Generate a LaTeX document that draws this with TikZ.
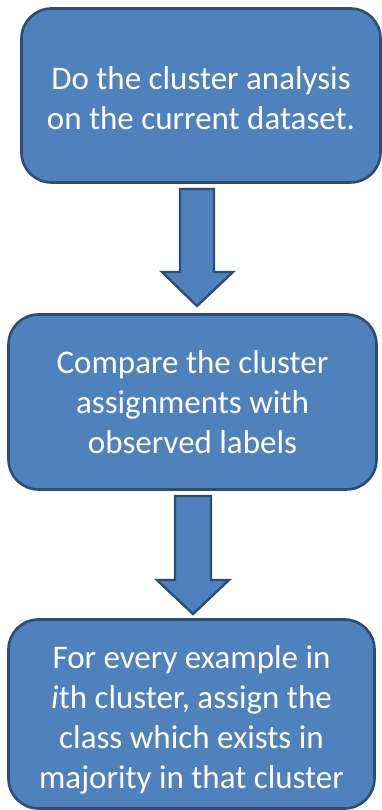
\documentclass[tikz,border=0pt]{standalone}
\usepackage{fontspec}
\setmainfont{Carlito}
\definecolor{boxfill}{HTML}{4F81BD}
\definecolor{boxline}{HTML}{2C4D75}
\begin{document}
\begin{tikzpicture}[x=1pt,y=1pt,
  stepbox/.style={draw=boxline, line width=2.6pt, fill=boxfill, rounded corners=30pt,
    text=white, align=center, inner sep=0pt,
    font=\fontsize{33}{40}\selectfont},
  blockarrow/.style={draw=boxline, line width=2.4pt, fill=boxfill, line join=miter}]
\useasboundingbox (0,0) rectangle (382,810);
\node[stepbox, minimum width=359pt, minimum height=174pt] (b1) at (201,714.5)
  {\rule{0pt}{29pt}Do the cluster analysis\\on the current dataset.};
\node[stepbox, minimum width=368pt, minimum height=175pt] (b2) at (192.5,408)
  {Compare the cluster\\assignments with\\observed labels};
\node[stepbox, minimum width=366pt, minimum height=189pt] (b3) at (191.5,96)
  {\rule{0pt}{35pt}For every example in\\\textit{i}th cluster, assign the\\class which exists in\\majority in that cluster};
% arrow 1
\draw[blockarrow] (180,621) -- (214,621) -- (214,538) -- (233,538) -- (197,504)
  -- (162,538) -- (180,538) -- cycle;
% arrow 2
\draw[blockarrow] (175,314) -- (211,314) -- (211,230) -- (229,230) -- (193,196)
  -- (157,230) -- (175,230) -- cycle;
\end{tikzpicture}
\end{document}
